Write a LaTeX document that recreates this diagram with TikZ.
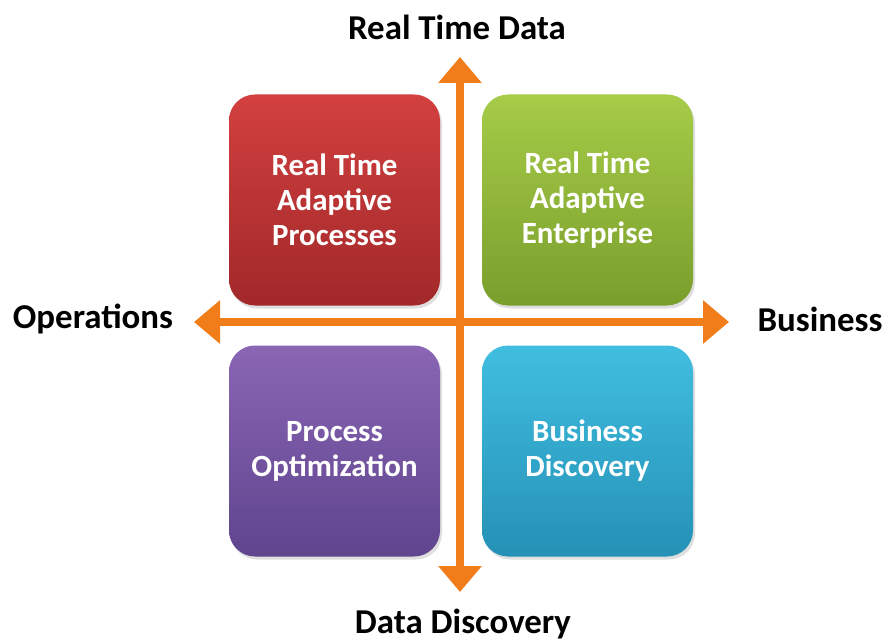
\documentclass[tikz,border=0pt]{standalone}
\usepackage{fontspec}
\setmainfont{Carlito}
\usetikzlibrary{arrows.meta,shadows}
\definecolor{axisor}{HTML}{F07D1A}
\definecolor{redT}{HTML}{D2403F}\definecolor{redB}{HTML}{A2282A}
\definecolor{grnT}{HTML}{A6CC48}\definecolor{grnB}{HTML}{7A9E2C}
\definecolor{purT}{HTML}{8A66B4}\definecolor{purB}{HTML}{5F448E}
\definecolor{bluT}{HTML}{40BEE0}\definecolor{bluB}{HTML}{2591B6}
\begin{document}
\begin{tikzpicture}[x=1bp,y=-1bp,
  quad/.style={rounded corners=26bp, minimum width=211bp, minimum height=211bp,
    inner sep=0pt, align=center, text=white, font=\fontsize{31}{35}\selectfont\bfseries,
    drop shadow={shadow xshift=2bp, shadow yshift=-3bp, opacity=0.25}},
  axis/.style={draw=axisor, line width=8bp, -{Triangle[width=42bp,length=26bp]}},
  axlabel/.style={font=\fontsize{35}{40}\selectfont\bfseries, text=black, inner sep=0pt}]
\useasboundingbox (0,0) rectangle (888,641);
\node[quad, top color=redT, bottom color=redB] (rtap) at (334.5,200) {Real Time\\Adaptive\\Processes};
\node[quad, top color=grnT, bottom color=grnB] (rtae) at (587.5,200) {Real Time\\Adaptive\\Enterprise};
\node[quad, top color=purT, bottom color=purB] (po) at (334.5,451) {Process\\Optimization};
\node[quad, top color=bluT, bottom color=bluB] (bd) at (587.5,451) {Business\\Discovery};
\coordinate (c) at (460,322);
\coordinate (top) at (460,57);
\coordinate (bot) at (460,592);
\coordinate (lft) at (194,322);
\coordinate (rgt) at (729,322);
\draw[axis] (c) -- (top);
\draw[axis] (c) -- (bot);
\draw[axis] (c) -- (lft);
\draw[axis] (c) -- (rgt);
\node[axlabel] (rtd) at (457,27) {Real Time Data};
\node[axlabel] (dd) at (463,624) {Data Discovery};
\node[axlabel] (ops) at (93,319) {Operations};
\node[axlabel] (bus) at (820,319) {Business};
\end{tikzpicture}
\end{document}
